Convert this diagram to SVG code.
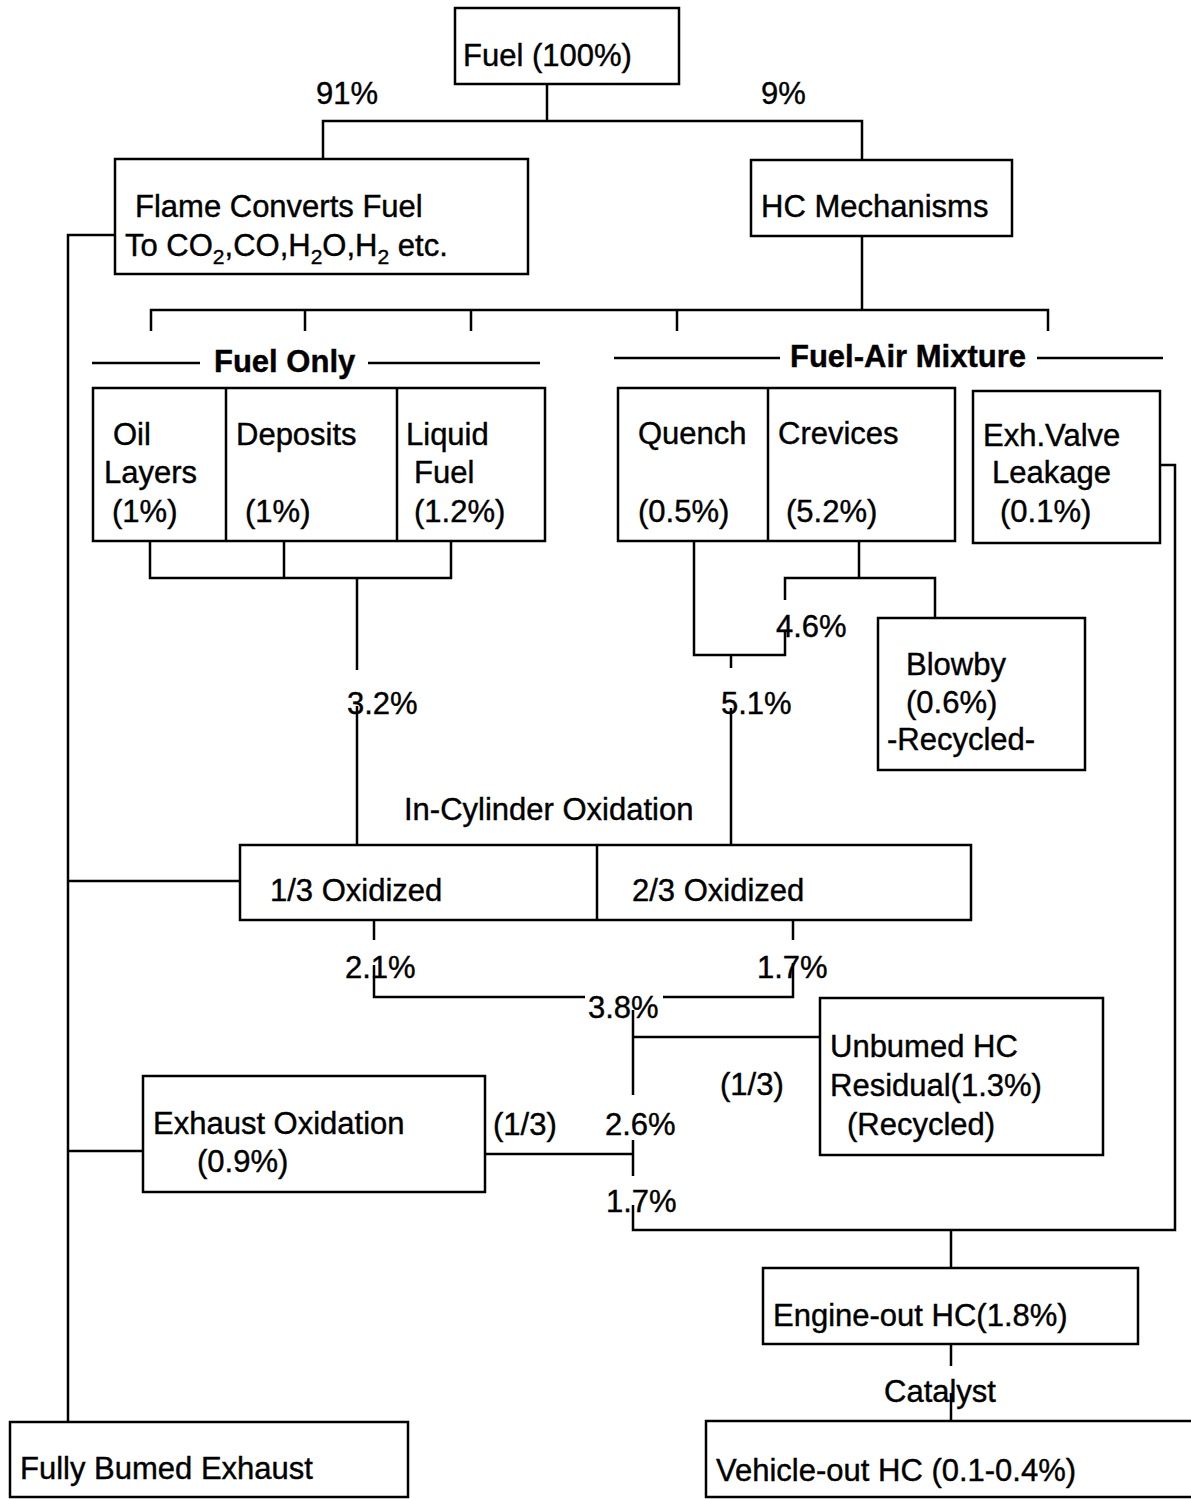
<svg xmlns="http://www.w3.org/2000/svg" width="1191" height="1499" viewBox="0 0 1191 1499">
<style>
.b{fill:#fff;stroke:#000;stroke-width:2.5}
.l{fill:none;stroke:#000;stroke-width:2.5}
text{font-family:"Liberation Sans",Arial,sans-serif;font-size:31px;fill:#000;stroke:#000;stroke-width:0.4}
.h{font-weight:bold}
</style>
<rect width="1191" height="1499" fill="#fff"/>
<g id="connectors" class="l">
<path d="M547 84V121M323 158V121H862V160"/>
<path d="M862 236V310M151 331V310H1048V331M305 310V331M471 310V331M677 310V331"/>
<path d="M92 363H200M368 363H540M614 358H780M1037 358H1163"/>
<path d="M150 541V578H451V541M284 541V578M357 578V670M357 706V845"/>
<path d="M694 541V655H785V630M785 600V578H935V618M859 541V578"/>
<path d="M731 655V668M731 708V845"/>
<path d="M115 235H68V1422M68 881H240M68 1151H143"/>
<path d="M374 920V940M374 965V997H585M663 997H793V963M793 920V940"/>
<path d="M633 1010V1095M633 1037H820M485 1154H633M633 1140V1176M633 1205V1230H1175V465H1160M951 1230V1268"/>
<path d="M951 1344V1366M951 1393V1421"/>
</g>
<g id="fuel"><rect class="b" x="455" y="8" width="224" height="76"/><text x="463" y="66">Fuel (100%)</text></g>
<g id="label-91"><text x="316" y="104">91%</text></g>
<g id="label-9"><text x="761" y="104">9%</text></g>
<g id="flame"><rect class="b" x="115" y="159" width="413" height="115"/><text x="135" y="217">Flame Converts Fuel</text><text x="125" y="256">To CO<tspan font-size="21" dy="8">2</tspan><tspan dy="-8">,CO,H</tspan><tspan font-size="21" dy="8">2</tspan><tspan dy="-8">O,H</tspan><tspan font-size="21" dy="8">2</tspan><tspan dy="-8"> etc.</tspan></text></g>
<g id="hc-mech"><rect class="b" x="751" y="160" width="261" height="76"/><text x="761" y="217">HC Mechanisms</text></g>
<g id="fuel-only-label"><text class="h" x="214" y="372">Fuel Only</text></g>
<g id="fuel-air-label"><text class="h" x="790" y="367">Fuel-Air Mixture</text></g>
<g id="fuel-only">
<rect class="b" x="93" y="388" width="452" height="153"/>
<path class="l" d="M226 388V541M397 388V541"/>
<text x="113" y="445">Oil</text><text x="104" y="483">Layers</text><text x="112" y="522">(1%)</text>
<text x="236" y="445">Deposits</text><text x="245" y="522">(1%)</text>
<text x="406" y="445">Liquid</text><text x="414" y="483">Fuel</text><text x="414" y="522">(1.2%)</text>
</g>
<g id="fuel-air">
<rect class="b" x="618" y="388" width="337" height="153"/>
<path class="l" d="M768 388V541"/>
<text x="638" y="444">Quench</text><text x="638" y="522">(0.5%)</text>
<text x="778" y="444">Crevices</text><text x="786" y="522">(5.2%)</text>
</g>
<g id="exh-valve"><rect class="b" x="973" y="391" width="187" height="152"/><text x="983" y="446">Exh.Valve</text><text x="992" y="483">Leakage</text><text x="1000" y="522">(0.1%)</text></g>
<g id="label-32"><text x="347" y="714">3.2%</text></g>
<g id="label-46"><text x="776" y="637">4.6%</text></g>
<g id="label-51"><text x="721" y="714">5.1%</text></g>
<g id="blowby"><rect class="b" x="878" y="618" width="207" height="152"/><text x="906" y="675">Blowby</text><text x="906" y="713">(0.6%)</text><text x="887" y="750">-Recycled-</text></g>
<g id="in-cyl-label"><text x="404" y="820">In-Cylinder Oxidation</text></g>
<g id="in-cyl">
<rect class="b" x="240" y="845" width="731" height="75"/>
<path class="l" d="M597 845V920"/>
<text x="270" y="901">1/3 Oxidized</text><text x="632" y="901">2/3 Oxidized</text>
</g>
<g id="label-21"><text x="345" y="978">2.1%</text></g>
<g id="label-17a"><text x="757" y="978">1.7%</text></g>
<g id="label-38"><text x="588" y="1018">3.8%</text></g>
<g id="unburned"><rect class="b" x="820" y="998" width="283" height="157"/><text x="830" y="1057">Unbumed HC</text><text x="830" y="1096">Residual(1.3%)</text><text x="847" y="1135">(Recycled)</text></g>
<g id="label-13a"><text x="720" y="1095">(1/3)</text></g>
<g id="exh-ox"><rect class="b" x="143" y="1076" width="342" height="116"/><text x="153" y="1134">Exhaust Oxidation</text><text x="197" y="1172">(0.9%)</text></g>
<g id="label-13b"><text x="493" y="1135">(1/3)</text></g>
<g id="label-26"><text x="605" y="1135">2.6%</text></g>
<g id="label-17b"><text x="606" y="1212">1.7%</text></g>
<g id="engine-out"><rect class="b" x="763" y="1268" width="375" height="76"/><text x="773" y="1326">Engine-out HC(1.8%)</text></g>
<g id="catalyst-label"><text x="884" y="1402">Catalyst</text></g>
<g id="vehicle-out"><rect class="b" x="706" y="1421" width="490" height="76"/><text x="716" y="1481">Vehicle-out HC (0.1-0.4%)</text></g>
<g id="fully-burned"><rect class="b" x="10" y="1422" width="398" height="75"/><text x="20" y="1479">Fully Bumed Exhaust</text></g>
</svg>
